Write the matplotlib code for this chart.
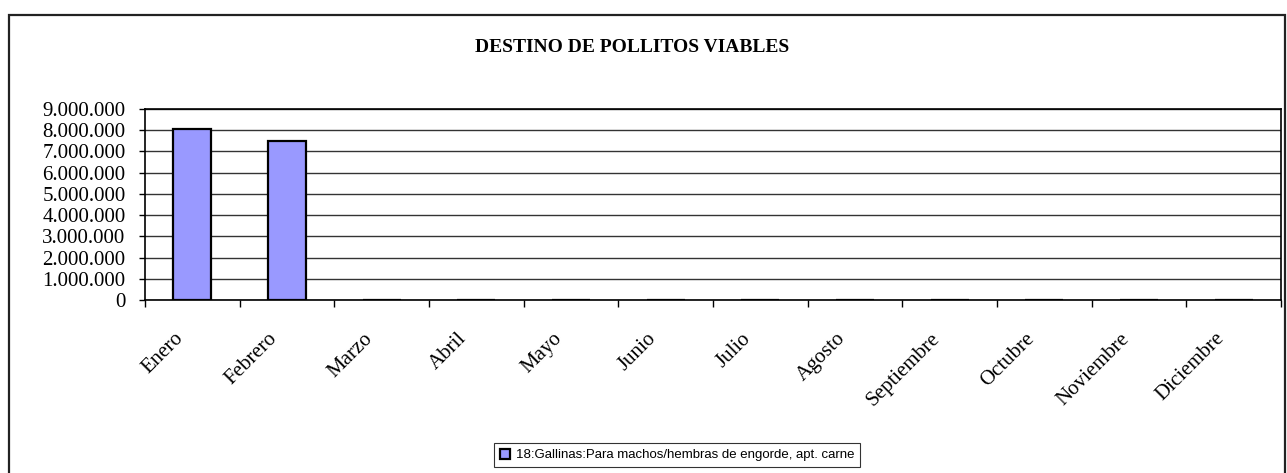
import numpy as np
import matplotlib
matplotlib.use("Agg")
import matplotlib.pyplot as plt
from matplotlib.patches import Rectangle
from matplotlib.ticker import FuncFormatter
from matplotlib.transforms import ScaledTranslation

months = ["Enero", "Febrero", "Marzo", "Abril", "Mayo", "Junio", "Julio",
          "Agosto", "Septiembre", "Octubre", "Noviembre", "Diciembre"]
values = [8050000, 7500000, 0, 0, 0, 0, 0, 0, 0, 0, 0, 0]
series_label = "18:Gallinas:Para machos/hembras de engorde, apt. carne"
title = "DESTINO DE POLLITOS VIABLES"

serif = ["Liberation Serif", "DejaVu Serif"]
sans = ["Liberation Sans", "DejaVu Sans"]

fig = plt.figure(figsize=(12.87, 4.73), dpi=100)
ax = fig.add_axes([145 / 1287, 1 - 300 / 473, 1136 / 1287, 191 / 473])

# outer chart frame
fig.patches.append(Rectangle((9 / 1287, -0.05), 1276 / 1287, 1.05 - 15 / 473,
                             transform=fig.transFigure, fill=False,
                             ec="#222222", lw=1.6))

x = np.arange(len(months))
bars = ax.bar(x, values, width=0.4, color="#9999ff", edgecolor="black",
              lw=1.6, zorder=3, label=series_label)

ax.set_xlim(-0.5, len(months) - 0.5)
ax.set_ylim(0, 9000000)
ax.set_yticks(np.arange(0, 9000001, 1000000))
ax.yaxis.set_major_formatter(FuncFormatter(lambda v, p: f"{int(v):,}".replace(",", ".")))
ax.grid(axis="y", color="#333333", lw=1.0, zorder=0)
for s in ax.spines.values():
    s.set_color("black")
    s.set_linewidth(1.2)

ax.set_xticks(np.arange(-0.5, len(months), 1))
ax.set_xticklabels([])
ax.set_xticks(x, minor=True)
ax.set_xticklabels(months, minor=True, rotation=45, ha="right", va="top",
                   rotation_mode="anchor", family=serif, fontsize=15)
ax.tick_params(axis="x", which="major", direction="out", length=5, width=1)
ax.tick_params(axis="x", which="minor", length=0, pad=21)
ax.tick_params(axis="y", direction="out", length=4, width=1, pad=10)
shift = ScaledTranslation(-19 / 100, 0, fig.dpi_scale_trans)
for lbl in ax.get_xticklabels(minor=True):
    lbl.set_transform(lbl.get_transform() + shift)
for lbl in ax.get_yticklabels():
    lbl.set_family(serif)
    lbl.set_fontsize(15)

fig.text(632 / 1287, 1 - 48 / 473, title, ha="center", va="center",
         family=serif, fontsize=14, fontweight="bold")

leg = fig.legend(handles=[bars], labels=[series_label], loc="center",
                 bbox_to_anchor=(677 / 1287, 1 - 455 / 473), frameon=True,
                 fancybox=False, prop={"family": sans, "size": 9.5},
                 handlelength=0.8, handleheight=0.8, handletextpad=0.4,
                 borderpad=0.45, borderaxespad=0)
leg.get_frame().set_edgecolor("black")
leg.get_frame().set_linewidth(0.8)

fig.savefig("out.png", dpi=100)
